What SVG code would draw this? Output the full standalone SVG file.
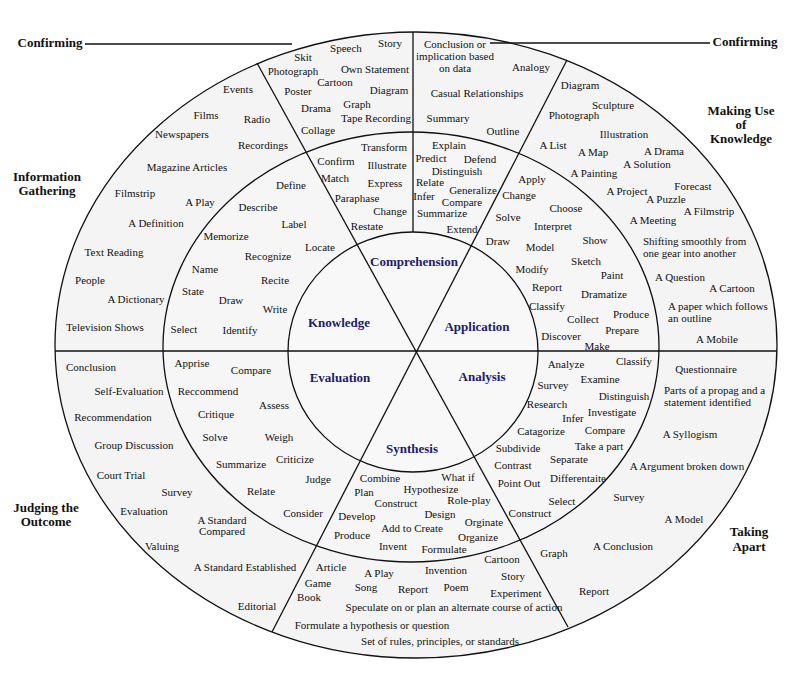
<svg xmlns="http://www.w3.org/2000/svg" width="810" height="698" viewBox="0 0 810 698">
<style>
text{font-family:"Liberation Serif","Times New Roman",serif;font-size:11px;fill:#111;text-anchor:middle}
.s{text-anchor:start}
.h{font-weight:bold;font-size:13px}
.c{font-weight:bold;font-size:13px;fill:#1c1c6a}
.ln{stroke:#111;stroke-width:1.3;fill:none}
</style>
<rect width="810" height="698" fill="#fff"/>
<g id="rings">
<ellipse cx="416" cy="345" rx="361" ry="313" fill="#f4f4f4" stroke="#111" stroke-width="1.3"/>
<ellipse cx="411" cy="347" rx="248" ry="215" fill="#f6f6f6" stroke="#111" stroke-width="1.3"/>
<ellipse cx="413" cy="352" rx="125" ry="120" fill="#f8f8f8" stroke="#111" stroke-width="1.3"/>
</g>
<g id="connectors">
<line class="ln" x1="55" y1="351" x2="777" y2="351"/>
<line class="ln" x1="413" y1="32" x2="413" y2="232"/>
<line class="ln" x1="257" y1="63" x2="568" y2="627"/>
<line class="ln" x1="567" y1="60" x2="272" y2="632"/>
<line class="ln" x1="85" y1="44" x2="292" y2="44"/>
<line class="ln" x1="490" y1="43" x2="710" y2="43"/>
</g>
<g id="confirming-labels">
<text class="h" x="50" y="47">Confirming</text>
<text class="h" x="745" y="46">Confirming</text>
</g>
<g id="information-gathering">
<text class="h" x="47" y="181">Information</text>
<text class="h" x="47" y="195">Gathering</text>
<text x="238" y="93">Events</text>
<text x="206" y="119">Films</text>
<text x="257" y="123">Radio</text>
<text x="182" y="138">Newspapers</text>
<text x="263" y="149">Recordings</text>
<text x="187" y="171">Magazine Articles</text>
<text x="135" y="197">Filmstrip</text>
<text x="200" y="206">A Play</text>
<text x="156" y="227">A Definition</text>
<text x="114" y="256">Text Reading</text>
<text x="90" y="284">People</text>
<text x="136" y="303">A Dictionary</text>
<text x="105" y="331">Television Shows</text>
</g>
<g id="knowledge-verbs">
<text x="291" y="189">Define</text>
<text x="258" y="211">Describe</text>
<text x="294" y="228">Label</text>
<text x="226" y="240">Memorize</text>
<text x="320" y="251">Locate</text>
<text x="268" y="260">Recognize</text>
<text x="205" y="273">Name</text>
<text x="275" y="284">Recite</text>
<text x="193" y="295">State</text>
<text x="231" y="304">Draw</text>
<text x="275" y="313">Write</text>
<text x="184" y="333">Select</text>
<text x="240" y="334">Identify</text>
</g>
<g id="confirming-left">
<text x="390" y="47">Story</text>
<text x="346" y="52">Speech</text>
<text x="303" y="61">Skit</text>
<text x="375" y="73">Own Statement</text>
<text x="293" y="75">Photograph</text>
<text x="335" y="86">Cartoon</text>
<text x="298" y="95">Poster</text>
<text x="389" y="94">Diagram</text>
<text x="357" y="108">Graph</text>
<text x="316" y="112">Drama</text>
<text x="376" y="122">Tape Recording</text>
<text x="318" y="134">Collage</text>
</g>
<g id="confirming-right">
<text x="455" y="48">Conclusion or</text>
<text x="455" y="60">implication based</text>
<text x="455" y="72">on data</text>
<text x="531" y="71">Analogy</text>
<text x="477" y="97">Casual Relationships</text>
<text x="448" y="122">Summary</text>
<text x="503" y="135">Outline</text>
</g>
<g id="comprehension-verbs">
<text x="384" y="151">Transform</text>
<text x="336" y="165">Confirm</text>
<text x="387" y="169">Illustrate</text>
<text x="335" y="182">Match</text>
<text x="385" y="187">Express</text>
<text x="357" y="202">Paraphase</text>
<text x="390" y="215">Change</text>
<text x="367" y="230">Restate</text>
<text x="449" y="149">Explain</text>
<text x="431" y="162">Predict</text>
<text x="480" y="163">Defend</text>
<text x="457" y="175">Distinguish</text>
<text x="430" y="186">Relate</text>
<text x="473" y="194">Generalize</text>
<text x="424" y="200">Infer</text>
<text x="462" y="206">Compare</text>
<text x="442" y="217">Summarize</text>
<text x="462" y="233">Extend</text>
</g>
<g id="making-use-of-knowledge">
<text class="h" x="741" y="115">Making Use</text>
<text class="h" x="741" y="129">of</text>
<text class="h" x="741" y="143">Knowledge</text>
<text x="580" y="89">Diagram</text>
<text x="613" y="109">Sculpture</text>
<text x="574" y="119">Photograph</text>
<text x="624" y="138">Illustration</text>
<text x="553" y="149">A List</text>
<text x="593" y="156">A Map</text>
<text x="664" y="155">A Drama</text>
<text x="647" y="168">A Solution</text>
<text x="594" y="177">A Painting</text>
<text x="693" y="190">Forecast</text>
<text x="627" y="195">A Project</text>
<text x="666" y="203">A Puzzle</text>
<text x="709" y="215">A Filmstrip</text>
<text x="653" y="224">A Meeting</text>
<text class="s" x="643" y="245">Shifting smoothly from</text>
<text class="s" x="643" y="257">one gear into another</text>
<text x="680" y="281">A Question</text>
<text x="732" y="292">A Cartoon</text>
<text class="s" x="668" y="310">A paper which follows</text>
<text class="s" x="668" y="322">an outline</text>
<text x="717" y="343">A Mobile</text>
</g>
<g id="application-verbs">
<text x="532" y="183">Apply</text>
<text x="519" y="199">Change</text>
<text x="566" y="212">Choose</text>
<text x="508" y="221">Solve</text>
<text x="553" y="230">Interpret</text>
<text x="595" y="244">Show</text>
<text x="498" y="245">Draw</text>
<text x="540" y="251">Model</text>
<text x="586" y="265">Sketch</text>
<text x="532" y="273">Modify</text>
<text x="612" y="279">Paint</text>
<text x="547" y="291">Report</text>
<text x="604" y="298">Dramatize</text>
<text x="547" y="310">Classify</text>
<text x="583" y="323">Collect</text>
<text x="631" y="318">Produce</text>
<text x="622" y="334">Prepare</text>
<text x="561" y="340">Discover</text>
<text x="597" y="350">Make</text>
</g>
<g id="analysis-verbs">
<text x="566" y="368">Analyze</text>
<text x="634" y="365">Classify</text>
<text x="600" y="383">Examine</text>
<text x="553" y="389">Survey</text>
<text x="624" y="400">Distinguish</text>
<text x="547" y="408">Research</text>
<text x="612" y="416">Investigate</text>
<text x="573" y="422">Infer</text>
<text x="541" y="435">Catagorize</text>
<text x="605" y="434">Compare</text>
<text x="599" y="450">Take a part</text>
<text x="518" y="452">Subdivide</text>
<text x="569" y="463">Separate</text>
<text x="513" y="469">Contrast</text>
<text x="578" y="482">Differentaite</text>
<text x="519" y="487">Point Out</text>
<text x="562" y="505">Select</text>
<text x="530" y="517">Construct</text>
</g>
<g id="taking-apart">
<text class="h" x="749" y="536">Taking</text>
<text class="h" x="749" y="551">Apart</text>
<text x="706" y="373">Questionnaire</text>
<text class="s" x="664" y="394">Parts of a propag and a</text>
<text class="s" x="664" y="406">statement identified</text>
<text x="690" y="438">A Syllogism</text>
<text x="687" y="470">A Argument broken down</text>
<text x="629" y="501">Survey</text>
<text x="684" y="523">A Model</text>
<text x="623" y="550">A Conclusion</text>
<text x="554" y="557">Graph</text>
<text x="594" y="595">Report</text>
</g>
<g id="knowledge"><text class="c" x="339" y="327">Knowledge</text></g>
<g id="comprehension"><text class="c" x="414" y="266">Comprehension</text></g>
<g id="application"><text class="c" x="477" y="331">Application</text></g>
<g id="analysis"><text class="c" x="482" y="381">Analysis</text></g>
<g id="synthesis"><text class="c" x="412" y="453">Synthesis</text></g>
<g id="evaluation"><text class="c" x="340" y="382">Evaluation</text></g>
<g id="evaluation-verbs">
<text x="192" y="367">Apprise</text>
<text x="251" y="374">Compare</text>
<text x="208" y="395">Reccommend</text>
<text x="274" y="409">Assess</text>
<text x="216" y="418">Critique</text>
<text x="215" y="441">Solve</text>
<text x="279" y="441">Weigh</text>
<text x="241" y="468">Summarize</text>
<text x="295" y="463">Criticize</text>
<text x="318" y="483">Judge</text>
<text x="261" y="495">Relate</text>
<text x="303" y="517">Consider</text>
</g>
<g id="judging-the-outcome">
<text class="h" x="46" y="512">Judging the</text>
<text class="h" x="46" y="526">Outcome</text>
<text x="91" y="371">Conclusion</text>
<text x="129" y="395">Self-Evaluation</text>
<text x="113" y="421">Recommendation</text>
<text x="134" y="449">Group Discussion</text>
<text x="121" y="479">Court Trial</text>
<text x="177" y="496">Survey</text>
<text x="144" y="515">Evaluation</text>
<text x="222" y="524">A Standard</text>
<text x="222" y="535">Compared</text>
<text x="162" y="550">Valuing</text>
<text x="245" y="571">A Standard Established</text>
<text x="257" y="610">Editorial</text>
</g>
<g id="synthesis-verbs">
<text x="380" y="482">Combine</text>
<text x="458" y="481">What if</text>
<text x="364" y="496">Plan</text>
<text x="431" y="493">Hypothesize</text>
<text x="396" y="507">Construct</text>
<text x="469" y="504">Role-play</text>
<text x="357" y="520">Develop</text>
<text x="440" y="518">Design</text>
<text x="484" y="526">Orginate</text>
<text x="412" y="532">Add to Create</text>
<text x="352" y="539">Produce</text>
<text x="478" y="541">Organize</text>
<text x="393" y="550">Invent</text>
<text x="444" y="553">Formulate</text>
</g>
<g id="synthesis-products">
<text x="502" y="563">Cartoon</text>
<text x="331" y="571">Article</text>
<text x="379" y="577">A Play</text>
<text x="446" y="574">Invention</text>
<text x="513" y="580">Story</text>
<text x="318" y="587">Game</text>
<text x="366" y="591">Song</text>
<text x="413" y="593">Report</text>
<text x="456" y="591">Poem</text>
<text x="516" y="597">Experiment</text>
<text x="309" y="601">Book</text>
<text x="454" y="611">Speculate on or plan an alternate course of action</text>
<text x="372" y="629">Formulate a hypothesis or question</text>
<text x="440" y="645">Set of rules, principles, or standards</text>
</g>
</svg>
